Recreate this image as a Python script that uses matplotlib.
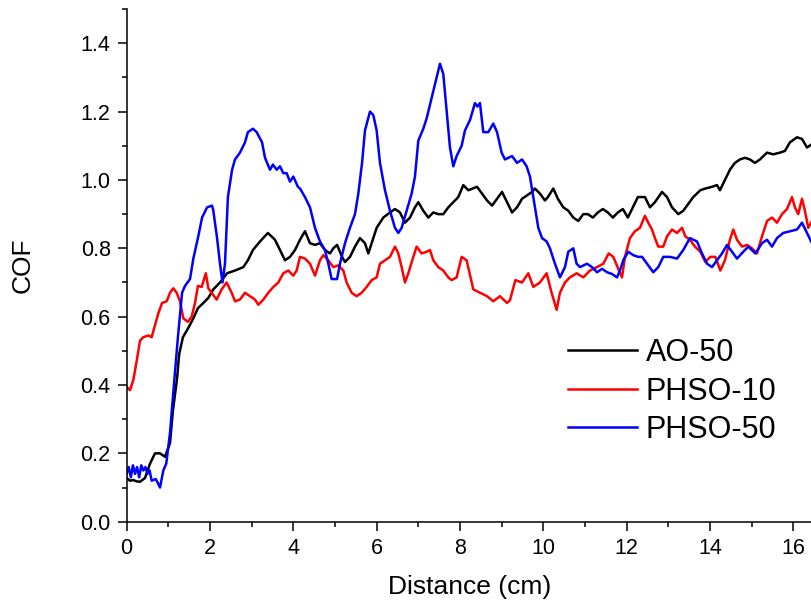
import matplotlib
matplotlib.use("Agg")
import matplotlib.pyplot as plt
from matplotlib.ticker import MultipleLocator

plt.rcParams['font.family'] = ['Liberation Sans', 'DejaVu Sans']

# AO-50 (black)
ao50_x = [0.0, 0.08, 0.16, 0.24, 0.32, 0.44, 0.56, 0.68, 0.80, 0.92, 1.04, 1.11, 1.21, 1.26, 1.35,
          1.47, 1.60, 1.71, 1.84, 1.96, 2.08, 2.24, 2.41, 2.60, 2.80, 2.91, 3.03, 3.20, 3.39, 3.56,
          3.68, 3.80, 3.92, 4.04, 4.16, 4.28, 4.40, 4.52, 4.64, 4.76, 4.88, 4.96, 5.05, 5.17, 5.24,
          5.36, 5.48, 5.60, 5.72, 5.80, 5.88, 6.0, 6.16, 6.32, 6.44, 6.56, 6.68, 6.80, 6.92, 7.0,
          7.12, 7.24, 7.36, 7.48, 7.60, 7.72, 7.84, 7.96, 8.08, 8.20, 8.41, 8.53, 8.65, 8.77, 8.89,
          9.01, 9.13, 9.25, 9.37, 9.49, 9.61, 9.73, 9.80, 9.92, 10.04, 10.11, 10.24, 10.35, 10.48,
          10.60, 10.72, 10.84, 10.96, 11.07, 11.19, 11.31, 11.43, 11.55, 11.67, 11.79, 11.91, 12.03,
          12.15, 12.27, 12.44, 12.56, 12.68, 12.85, 12.97, 13.09, 13.24, 13.36, 13.48, 13.60, 13.77,
          13.89, 14.05, 14.17, 14.24, 14.36, 14.48, 14.60, 14.72, 14.84, 14.96, 15.08, 15.20, 15.37,
          15.52, 15.68, 15.80, 15.92, 16.09, 16.21, 16.33, 16.45]
ao50_y = [0.128, 0.12, 0.122, 0.118, 0.117, 0.128, 0.17, 0.20, 0.20, 0.19, 0.23, 0.325, 0.42, 0.49, 0.54,
          0.565, 0.595, 0.625, 0.64, 0.655, 0.68, 0.70, 0.727, 0.735, 0.745, 0.765, 0.795, 0.82, 0.845, 0.825,
          0.795, 0.765, 0.775, 0.795, 0.825, 0.85, 0.815, 0.81, 0.815, 0.795, 0.785, 0.80, 0.81, 0.775, 0.76,
          0.775, 0.805, 0.83, 0.815, 0.785, 0.815, 0.86, 0.89, 0.905, 0.915, 0.905, 0.875, 0.89, 0.92, 0.935,
          0.91, 0.89, 0.905, 0.90, 0.90, 0.92, 0.935, 0.95, 0.985, 0.97, 0.98, 0.96, 0.94, 0.925, 0.945,
          0.965, 0.935, 0.905, 0.92, 0.945, 0.955, 0.965, 0.975, 0.96, 0.94, 0.95, 0.975, 0.945, 0.92,
          0.91, 0.89, 0.88, 0.90, 0.90, 0.89, 0.905, 0.915, 0.905, 0.89, 0.905, 0.915, 0.89,
          0.92, 0.95, 0.95, 0.92, 0.935, 0.965, 0.95, 0.92, 0.90, 0.91, 0.93, 0.95, 0.97,
          0.975, 0.98, 0.985, 0.97, 1.0, 1.03, 1.05, 1.06, 1.065, 1.06, 1.05, 1.06, 1.08,
          1.075, 1.08, 1.085, 1.11, 1.125, 1.12, 1.095, 1.105]

# PHSO-10 (red)
phso10_x = [0.0, 0.08, 0.16, 0.24, 0.32, 0.40, 0.52, 0.60, 0.68, 0.76, 0.85, 0.96, 1.04, 1.12, 1.20,
            1.28, 1.36, 1.47, 1.56, 1.64, 1.71, 1.80, 1.90, 1.96, 2.04, 2.16, 2.28, 2.40, 2.52, 2.60,
            2.72, 2.84, 2.96, 3.08, 3.16, 3.28, 3.40, 3.52, 3.64, 3.76, 3.88, 4.00, 4.08, 4.16, 4.28,
            4.40, 4.52, 4.64, 4.72, 4.84, 4.96, 5.08, 5.20, 5.28, 5.40, 5.52, 5.64, 5.76, 5.88, 6.0,
            6.08, 6.20, 6.32, 6.44, 6.52, 6.60, 6.68, 6.76, 6.88, 6.96, 7.08, 7.20, 7.28, 7.36, 7.48,
            7.60, 7.72, 7.80, 7.92, 8.04, 8.16, 8.32, 8.48, 8.65, 8.80, 8.96, 9.13, 9.20, 9.33, 9.49,
            9.64, 9.76, 9.92, 10.08, 10.20, 10.32, 10.40, 10.52, 10.64, 10.80, 10.96, 11.12, 11.29,
            11.44, 11.57, 11.68, 11.80, 11.89, 11.96, 12.08, 12.20, 12.32, 12.44, 12.52, 12.61, 12.68,
            12.76, 12.88, 12.97, 13.09, 13.21, 13.33, 13.41, 13.52, 13.64, 13.77, 13.89, 14.01, 14.13,
            14.25, 14.36, 14.48, 14.56, 14.65, 14.77, 14.89, 15.01, 15.13, 15.25, 15.37, 15.49, 15.61,
            15.73, 15.85, 15.97, 16.04, 16.12, 16.21, 16.28, 16.36, 16.45]
phso10_y = [0.395, 0.385, 0.415, 0.47, 0.53, 0.54, 0.545, 0.54, 0.575, 0.61, 0.64, 0.645, 0.67, 0.683, 0.67,
            0.645, 0.595, 0.585, 0.60, 0.64, 0.69, 0.687, 0.727, 0.683, 0.67, 0.65, 0.68, 0.70, 0.67, 0.645,
            0.65, 0.67, 0.66, 0.65, 0.635, 0.65, 0.67, 0.687, 0.70, 0.727, 0.735, 0.72, 0.735, 0.775, 0.77,
            0.755, 0.72, 0.765, 0.78, 0.765, 0.745, 0.75, 0.735, 0.70, 0.67, 0.66, 0.67, 0.687, 0.707, 0.715,
            0.755, 0.765, 0.775, 0.805, 0.785, 0.745, 0.70, 0.727, 0.775, 0.805, 0.785, 0.79, 0.795, 0.765, 0.745,
            0.735, 0.715, 0.707, 0.715, 0.775, 0.765, 0.68, 0.67, 0.66, 0.645, 0.66, 0.64, 0.648, 0.707, 0.70,
            0.727, 0.687, 0.70, 0.727, 0.67, 0.62, 0.67, 0.70, 0.715, 0.727, 0.715, 0.735, 0.745,
            0.755, 0.785, 0.775, 0.74, 0.715, 0.775, 0.83, 0.85, 0.86, 0.895, 0.875, 0.855, 0.83,
            0.805, 0.805, 0.835, 0.855, 0.845, 0.86, 0.835, 0.825, 0.805, 0.79, 0.76, 0.775, 0.775,
            0.735, 0.765, 0.825, 0.855, 0.825, 0.805, 0.81, 0.80, 0.785, 0.835, 0.88, 0.89, 0.875,
            0.90, 0.915, 0.95, 0.92, 0.90, 0.945, 0.91, 0.86, 0.88]

# PHSO-50 (blue)
phso50_x = [0.0, 0.05, 0.1, 0.15, 0.2, 0.25, 0.3, 0.35, 0.4, 0.45, 0.5, 0.55, 0.6, 0.7, 0.8, 0.88,
            0.95, 1.04, 1.12, 1.23, 1.33, 1.40, 1.52, 1.60, 1.71, 1.81, 1.93, 2.05, 2.08, 2.17, 2.24,
            2.30, 2.36, 2.43, 2.53, 2.60, 2.72, 2.84, 2.91, 3.03, 3.12, 3.25, 3.32, 3.44, 3.51, 3.60,
            3.68, 3.76, 3.84, 3.92, 4.0, 4.11, 4.16, 4.28, 4.40, 4.52, 4.64, 4.76, 4.84, 4.92, 5.05,
            5.12, 5.24, 5.36, 5.48, 5.56, 5.65, 5.72, 5.84, 5.92, 6.0, 6.08, 6.20, 6.32, 6.44, 6.52,
            6.60, 6.72, 6.84, 6.92, 7.0, 7.12, 7.20, 7.28, 7.40, 7.52, 7.60, 7.69, 7.76, 7.84, 7.92,
            8.04, 8.12, 8.24, 8.36, 8.42, 8.48, 8.56, 8.68, 8.80, 8.89, 9.0, 9.08, 9.25, 9.37, 9.49,
            9.60, 9.68, 9.76, 9.88, 9.97, 10.08, 10.16, 10.28, 10.40, 10.52, 10.60, 10.72, 10.80, 10.88,
            11.05, 11.17, 11.29, 11.41, 11.53, 11.65, 11.77, 11.84, 11.92, 12.04, 12.16, 12.28, 12.37,
            12.49, 12.64, 12.76, 12.88, 13.04, 13.21, 13.36, 13.52, 13.69, 13.81, 13.93, 14.05, 14.17,
            14.29, 14.41, 14.53, 14.65, 14.80, 14.92, 15.09, 15.25, 15.37, 15.49, 15.61, 15.76, 15.93,
            16.09, 16.21, 16.33, 16.45]
phso50_y = [0.14, 0.16, 0.13, 0.165, 0.14, 0.16, 0.13, 0.165, 0.15, 0.16, 0.14, 0.15, 0.12, 0.125, 0.10, 0.15,
            0.17, 0.26, 0.38, 0.54, 0.67, 0.69, 0.71, 0.77, 0.83, 0.89, 0.92, 0.925, 0.91, 0.83, 0.755,
            0.70, 0.755, 0.95, 1.03, 1.06, 1.08, 1.11, 1.14, 1.15, 1.14, 1.11, 1.065, 1.03, 1.045, 1.03,
            1.04, 1.02, 1.02, 0.995, 1.01, 0.98, 0.975, 0.95, 0.92, 0.86, 0.82, 0.795, 0.755, 0.71, 0.71,
            0.755, 0.815, 0.86, 0.90, 0.96, 1.05, 1.145, 1.20, 1.19, 1.145, 1.05, 0.97, 0.91, 0.86, 0.845,
            0.86, 0.91, 0.96, 1.01, 1.115, 1.15, 1.18, 1.22, 1.28, 1.34, 1.31, 1.19, 1.095, 1.04, 1.07,
            1.10, 1.145, 1.175, 1.225, 1.215, 1.225, 1.14, 1.14, 1.165, 1.14, 1.08, 1.06, 1.07, 1.05, 1.06,
            1.04, 1.01, 0.95, 0.86, 0.83, 0.82, 0.80, 0.755, 0.715, 0.745, 0.79, 0.80, 0.755, 0.745,
            0.755, 0.745, 0.73, 0.74, 0.73, 0.725, 0.715, 0.735, 0.765, 0.79, 0.78, 0.775, 0.775,
            0.755, 0.73, 0.745, 0.775, 0.775, 0.77, 0.795, 0.83, 0.82, 0.785, 0.755, 0.745, 0.765,
            0.785, 0.81, 0.79, 0.77, 0.79, 0.805, 0.785, 0.815, 0.825, 0.805, 0.83, 0.845, 0.85,
            0.855, 0.875, 0.845, 0.815]

labels = ['AO-50', 'PHSO-10', 'PHSO-50']
colors = ['black', '#ff0000', '#0000ff']

fig = plt.figure(figsize=(8.12, 6.07), dpi=100)
ax = fig.add_axes([0.156, 0.1405, 0.844, 0.8445])

for xs, ys, lab, col in zip([ao50_x, phso10_x, phso50_x], [ao50_y, phso10_y, phso50_y], labels, colors):
    ax.plot(xs, ys, color=col, lw=1.8, label=lab)

ax.set_xlim(0, 16.45)
ax.set_ylim(0, 1.5)
ax.xaxis.set_major_locator(MultipleLocator(2))
ax.xaxis.set_minor_locator(MultipleLocator(1))
ax.yaxis.set_minor_locator(MultipleLocator(0.1))
ax.set_yticks([0, 0.2, 0.4, 0.6, 0.8, 1.0, 1.2, 1.4])
ax.yaxis.set_major_formatter(plt.FuncFormatter(lambda v, p: f"{v:.1f}"))

for s in ['top', 'right']:
    ax.spines[s].set_visible(False)
for s in ['left', 'bottom']:
    ax.spines[s].set_linewidth(1.1)

ax.tick_params(which='major', direction='out', length=6.5, width=1.1, labelsize=15.5, pad=5)
ax.tick_params(which='minor', direction='out', length=3.5, width=1.1)

ax.set_xlabel('Distance (cm)', fontsize=19, labelpad=12)
ax.set_ylabel('COF', fontsize=19, labelpad=33)

ax.legend(loc='upper left', bbox_to_anchor=(568 / 812, 1 - 338 / 607), bbox_transform=fig.transFigure,
          frameon=False, fontsize=22, handlelength=2.25, handletextpad=0.3, labelspacing=0.28,
          borderpad=0, borderaxespad=0)

fig.savefig('out.png', dpi=100)
